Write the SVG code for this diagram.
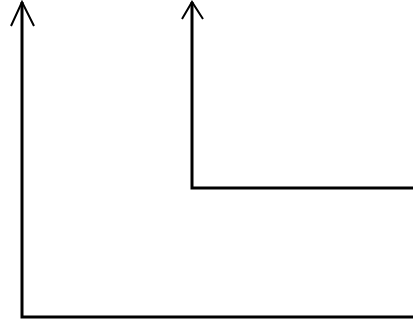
<svg xmlns="http://www.w3.org/2000/svg" width="413" height="320" viewBox="0 0 413 320">
<style>
.conn{fill:none;stroke:#000;stroke-width:3}
.head{fill:none;stroke:#000;stroke-width:2}
</style>
<rect width="413" height="320" fill="#fff"/>
<g id="connectors">
<polyline class="conn" points="413,317 22,317 22,2"/>
<path class="head" d="M11,26 L22,2 L34,26"/>
<polyline class="conn" points="413,188 192,188 192,2"/>
<path class="head" d="M182,19 L192,2 L203,19"/>
</g>
</svg>
